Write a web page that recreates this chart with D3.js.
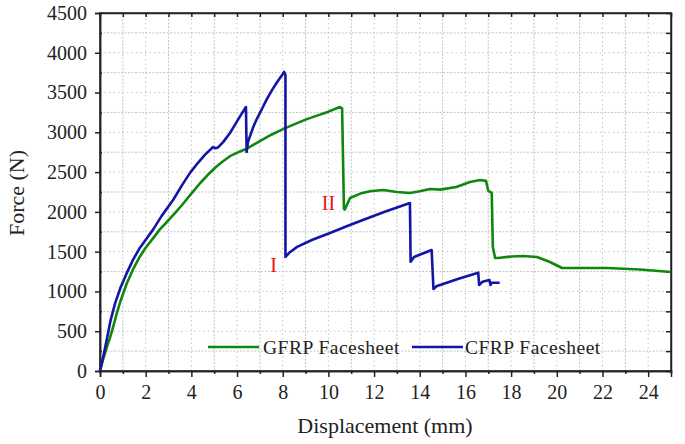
<html>
<script src="https://cdn.jsdelivr.net/npm/d3@7"></script>
<style>
    body { margin: 0; background: #fff; }
    text { font-family: 'Liberation Serif', 'Times New Roman', serif; fill: #222; }
</style>
<body>
<svg id="chart" width="685" height="444"></svg>
<script>
// GFRP facesheet curve: [displacement mm, force N]
const gfrpPoints = [
    [0,0],[0.15,160],[0.3,300],[0.44,420],[0.6,580],[0.73,720],[0.9,880],[1.17,1100],[1.45,1280],
    [1.75,1440],[2.0,1550],[2.33,1670],[2.62,1780],[2.92,1870],[3.3,1990],[3.6,2090],[4.0,2230],
    [4.38,2360],[4.7,2460],[5.1,2570],[5.4,2640],[5.69,2700],[6.13,2760],[6.39,2790],[7,2890],
    [7.5,2970],[8.01,3040],[8.5,3100],[9,3160],[9.5,3210],[10,3260],[10.5,3318],[10.6,3300],
    [10.62,2990],[10.68,2040],[10.72,2030],[10.95,2175],[11.4,2230],[11.82,2260],[12.4,2275],
    [13,2250],[13.57,2238],[14,2260],[14.45,2288],[14.89,2280],[15.6,2313],[16.2,2376],[16.64,2401],
    [16.9,2390],[17.0,2265],[17.15,2240],[17.2,1560],[17.3,1420],[17.43,1420],[18,1440],[18.52,1446],
    [19.13,1433],[19.7,1370],[20.23,1295],[21,1295],[22.2,1295],[23.64,1275],[25,1245]
];
// CFRP facesheet curve
const cfrpPoints = [
    [0,0],[0.08,100],[0.15,190],[0.3,400],[0.45,620],[0.66,850],[0.9,1050],[1.17,1230],[1.45,1400],
    [1.75,1550],[2.05,1670],[2.33,1780],[2.7,1950],[3.2,2150],[3.6,2340],[3.94,2490],[4.3,2620],
    [4.6,2720],[4.95,2815],[5.05,2800],[5.17,2810],[5.4,2880],[5.69,2991],[5.9,3090],[6.13,3200],
    [6.39,3318],[6.42,2753],[6.48,2880],[6.7,3060],[6.87,3170],[7.1,3300],[7.31,3420],[7.55,3540],
    [7.75,3630],[7.95,3710],[8.06,3759],[8.12,3720],[8.12,1433],[8.3,1490],[8.63,1560],[9.3,1650],
    [10.07,1735],[10.8,1820],[11.51,1898],[12.5,2005],[13.57,2112],[13.6,1374],[13.75,1433],
    [14.52,1521],[14.6,1031],[14.75,1068],[14.89,1081],[15.7,1160],[16.56,1236],[16.6,1081],
    [16.75,1123],[17.05,1144],[17.1,1081],[17.15,1110],[17.5,1110]
];
const xTicks = [0,2,4,6,8,10,12,14,16,18,20,22,24];
const yTicks = [0,500,1000,1500,2000,2500,3000,3500,4000,4500];
const seriesNames = ['GFRP Facesheet', 'CFRP Facesheet'];
const seriesColors = ['#0f870f', '#1414a6'];
const markers = [{label: 'I', x: 7.6, y: 1240}, {label: 'II', x: 10.0, y: 2020}];

const svg = d3.select('#chart');
const x = d3.scaleLinear().domain([0, 25]).range([100, 671]);
const y = d3.scaleLinear().domain([0, 4500]).range([371, 13]);

// grid
const grid = svg.append('g');
d3.range(1, 25).forEach(v => {
    grid.append('line').attr('x1', x(v)).attr('x2', x(v)).attr('y1', y(0)).attr('y2', y(4500))
        .attr('stroke', '#c4c4c4').attr('stroke-width', 1)
        .attr('stroke-dasharray', v % 2 ? '2,1.5' : '1.5,3');
});
d3.range(250, 4500, 250).forEach(v => {
    grid.append('line').attr('x1', x(0)).attr('x2', x(25)).attr('y1', y(v)).attr('y2', y(v))
        .attr('stroke', '#c4c4c4').attr('stroke-width', 1)
        .attr('stroke-dasharray', v % 500 ? '2,1.5' : '1.5,3');
});

// frame
svg.append('rect').attr('x', x(0)).attr('y', y(4500)).attr('width', x(25) - x(0))
    .attr('height', y(0) - y(4500)).attr('fill', 'none').attr('stroke', '#222').attr('stroke-width', 1.5);

// bottom axis
const bottom = svg.append('g').attr('transform', `translate(0,${y(0)})`);
bottom.call(d3.axisBottom(x).tickValues(xTicks).tickSize(6).tickPadding(8).tickFormat(d3.format('d')));
bottom.append('g').call(d3.axisBottom(x).tickValues(d3.range(1, 25, 2)).tickSize(3).tickFormat(''));
// left axis
const left = svg.append('g').attr('transform', `translate(${x(0)},0)`);
left.call(d3.axisLeft(y).tickValues(yTicks).tickSize(5).tickPadding(8).tickFormat(d3.format('d')));
left.append('g').call(d3.axisRight(y).tickValues(d3.range(250, 4500, 500)).tickSize(2).tickFormat(''));
// top & right inside ticks
svg.append('g').attr('transform', `translate(0,${y(4500)})`)
    .call(d3.axisBottom(x).tickValues(d3.range(1, 25)).tickSize(4).tickFormat(''));
svg.append('g').attr('transform', `translate(${x(25)},0)`)
    .call(d3.axisLeft(y).tickValues(d3.range(250, 4500, 250)).tickSize(5).tickFormat(''));

svg.selectAll('.domain').attr('stroke', '#222').attr('stroke-width', 1.5);
svg.selectAll('.tick line').attr('stroke', '#222').attr('stroke-width', 1.5);
svg.selectAll('.tick text').style('font-family', "'Liberation Serif', serif")
    .style('font-size', '20px').attr('fill', '#222');

// curves
const line = d3.line().x(d => x(d[0])).y(d => y(d[1]));
[gfrpPoints, cfrpPoints].forEach((pts, i) => {
    svg.append('path').datum(pts).attr('fill', 'none').attr('stroke', seriesColors[i])
        .attr('stroke-width', 2.6).attr('stroke-linejoin', 'round').attr('d', line);
});

// red markers
markers.forEach(m => {
    svg.append('text').attr('x', x(m.x)).attr('y', y(m.y)).attr('text-anchor', 'middle')
        .style('font-size', '20px').style('fill', '#ee1111').text(m.label);
});

// legend
const legend = svg.append('g');
[[208, 263], [412, 465]].forEach((p, i) => {
    legend.append('line').attr('x1', p[0]).attr('x2', p[0] + 51).attr('y1', 347).attr('y2', 347)
        .attr('stroke', seriesColors[i]).attr('stroke-width', 2.6);
    legend.append('text').attr('x', p[1]).attr('y', 354).style('font-size', '19.5px')
        .style('letter-spacing', '0.5px').text(seriesNames[i]);
});

// axis titles
svg.append('text').attr('x', 385).attr('y', 433).attr('text-anchor', 'middle')
    .style('font-size', '22px').text('Displacement (mm)');
svg.append('text').attr('transform', 'translate(24,193) rotate(-90)').attr('text-anchor', 'middle')
    .style('font-size', '22px').text('Force (N)');
</script>
</body>
</html>
